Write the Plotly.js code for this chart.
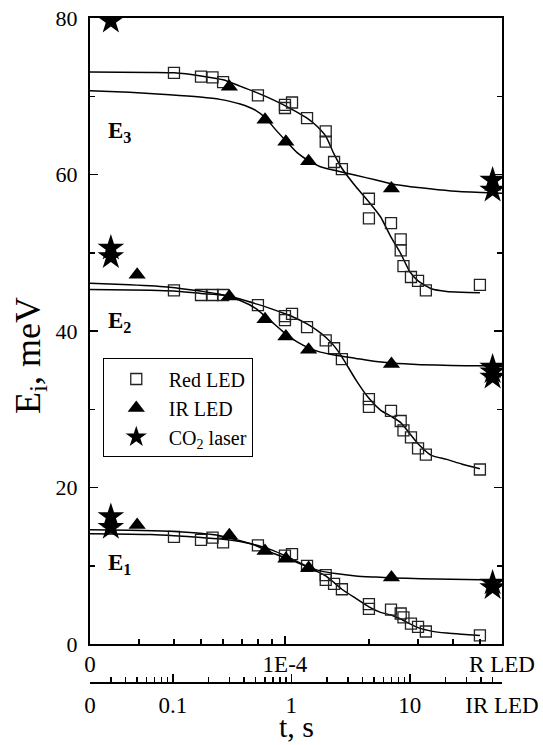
<!DOCTYPE html>
<html>
<head>
<meta charset="utf-8">
<script src="https://cdn.plot.ly/plotly-3.0.1.min.js"></script>
<style>html,body{margin:0;padding:0;background:#fff;}#chart{width:543px;height:745px;}</style>
</head>
<body>
<div id="chart"></div>
<script>
// ---- Red LED (top scale, R LED time) ----
const redSqT3 = [4e-5,5e-5,5.5e-5,6e-5,8e-5,1e-4,1e-4,1.06e-4,1.2e-4,1.4e-4,1.4e-4,1.5e-4,1.6e-4,2e-4,2e-4,2.4e-4,2.6e-4,2.6e-4,2.66e-4,2.83e-4,3e-4,3.2e-4,5e-4];
const redSqE3 = [73.0,72.5,72.4,71.8,70.1,68.9,68.5,69.2,67.2,65.5,64.2,61.6,60.7,56.9,54.4,53.8,51.7,50.3,48.3,46.9,46.4,45.2,45.9];
const redSqT2 = [4e-5,5e-5,5.5e-5,6e-5,8e-5,1e-4,1e-4,1.06e-4,1.2e-4,1.4e-4,1.5e-4,1.6e-4,2e-4,2e-4,2.4e-4,2.6e-4,2.66e-4,2.83e-4,3e-4,3.2e-4,5e-4];
const redSqE2 = [45.2,44.6,44.6,44.6,43.3,41.9,41.4,42.2,40.5,38.8,37.8,36.4,31.3,30.3,29.8,28.5,27.3,26.4,25.0,24.2,22.3];
const redSqT1 = [4e-5,5e-5,5.5e-5,6e-5,8e-5,1e-4,1.06e-4,1.2e-4,1.4e-4,1.4e-4,1.5e-4,1.6e-4,2e-4,2e-4,2.4e-4,2.6e-4,2.66e-4,2.83e-4,3e-4,3.2e-4,5e-4];
const redSqE1 = [13.7,13.3,13.6,13.0,12.6,11.3,11.5,10.0,8.8,8.2,7.7,7.0,5.1,4.5,4.4,3.9,3.4,2.6,2.2,1.6,1.1];

// Red LED fit curves
const redFitT  = [2e-5,3.3e-5,4e-5,5e-5,6e-5,6.9e-5,8e-5,9e-5,1e-4,1.1e-4,1.2e-4,1.3e-4,1.4e-4,1.5e-4,1.6e-4,1.8e-4,2e-4,2.2e-4,2.4e-4,2.6e-4,2.8e-4,3e-4,3.35e-4,3.8e-4,4.3e-4,5e-4];
const redFitE3 = [73.1,73.05,73.0,72.6,72.1,71.3,70.4,69.6,68.8,68.0,67.2,66.2,64.9,62.6,60.8,58.4,56.5,54.6,52.0,49.9,47.6,46.4,45.4,45.05,44.95,44.9];
const redFitE2 = [45.3,45.2,45.1,44.8,44.6,44.1,43.4,42.8,42.2,41.6,40.9,40.1,39.2,38.1,36.7,33.7,31.4,29.9,29.1,28.3,26.9,25.6,24.1,23.6,23.0,22.4];
const redFitE1 = [14.1,14.0,13.85,13.6,13.4,13.1,12.6,12.0,11.3,10.6,9.9,9.3,8.7,7.85,7.0,5.8,4.75,4.05,3.7,3.2,2.6,2.1,1.65,1.4,1.25,1.1];

// ---- IR LED (bottom scale, t in s) ----
const irSymT3 = [0.3,0.6,0.9,1.4,7];
const irSymE3 = [71.2,67.0,64.2,61.7,58.2];
const irSymT  = [0.05,0.3,0.6,0.9,1.4,7];
const irSymE2 = [47.2,44.4,41.5,39.3,37.6,35.8];
const irSymE1 = [15.2,13.9,11.9,10.9,9.7,8.5];

const irFitT  = [0.02,0.043,0.094,0.17,0.25,0.37,0.5,0.61,0.73,0.9,1.12,1.42,1.76,2.36,3.5,5.2,7.05,12.4,22.3,40,60];
const irFitE3 = [70.7,70.5,70.2,69.9,69.6,69.0,68.2,67.2,65.8,64.3,62.8,61.7,61.0,60.5,59.9,59.3,58.8,58.3,57.9,57.7,57.6];
const irFitE2 = [46.1,45.9,45.6,45.1,44.7,43.9,42.9,41.8,40.8,39.6,38.6,37.8,37.3,36.9,36.5,36.1,35.9,35.7,35.6,35.55,35.5];
const irFitE1 = [14.6,14.55,14.4,14.15,13.85,13.2,12.6,12.0,11.5,11.0,10.4,9.8,9.35,9.0,8.7,8.55,8.45,8.35,8.27,8.22,8.2];

// ---- CO2 laser ----
const starT = [0.03,0.03,0.03,0.03,0.03,50,50,50,50,50,50,50];
const starE = [79.6,50.6,49.5,16.3,14.9,59.3,58.0,35.4,34.8,34.1,7.8,7.2];

// ---- axes tick labels ----
const topTickVals = [2e-5,1e-4,6e-4];
const topTickText = ['0','1E-4','R LED'];
const topMinor = [3e-5,4e-5,5e-5,6e-5,7e-5,8e-5,9e-5,2e-4,3e-4,4e-4,5e-4];
const botTickVals = [0.02,0.1,1,10,60];
const botTickText = ['0','0.1','1','10','IR LED'];
const botMinor = [0.03,0.04,0.05,0.06,0.07,0.08,0.09,0.2,0.3,0.4,0.5,0.6,0.7,0.8,0.9,2,3,4,5,6,7,8,9,20,30,40,50];
const yTickVals = [0,20,40,60,80];
const yMinor = [10,30,50,70];

const FONT = 'Liberation Serif';
const lineStyle = {color:'#000', width:1.5, shape:'spline', smoothing:0.6};
const sq = {symbol:'square-open', size:11, color:'#222', line:{width:1.3, color:'#222'}};
const tri = {symbol:'triangle-up', size:15, color:'#000'};
const star = {symbol:'star', size:20, color:'#000'};

const traces = [
  {x:redFitT, y:redFitE3, xaxis:'x', yaxis:'y', mode:'lines', line:lineStyle, showlegend:false, hoverinfo:'skip'},
  {x:redFitT, y:redFitE2, xaxis:'x', yaxis:'y', mode:'lines', line:lineStyle, showlegend:false, hoverinfo:'skip'},
  {x:redFitT, y:redFitE1, xaxis:'x', yaxis:'y', mode:'lines', line:lineStyle, showlegend:false, hoverinfo:'skip'},
  {x:irFitT, y:irFitE3, xaxis:'x2', yaxis:'y', mode:'lines', line:lineStyle, showlegend:false, hoverinfo:'skip'},
  {x:irFitT, y:irFitE2, xaxis:'x2', yaxis:'y', mode:'lines', line:lineStyle, showlegend:false, hoverinfo:'skip'},
  {x:irFitT, y:irFitE1, xaxis:'x2', yaxis:'y', mode:'lines', line:lineStyle, showlegend:false, hoverinfo:'skip'},
  {x:redSqT3.concat(redSqT2, redSqT1), y:redSqE3.concat(redSqE2, redSqE1), xaxis:'x', yaxis:'y', mode:'markers', marker:sq, name:'Red LED'},
  {x:irSymT3.concat(irSymT, irSymT), y:irSymE3.concat(irSymE2, irSymE1), xaxis:'x2', yaxis:'y', mode:'markers', marker:tri, name:'IR LED'},
  {x:starT, y:starE, xaxis:'x2', yaxis:'y', mode:'markers', marker:star, name:'CO<sub>2</sub> laser'}
];

const axisCommon = {showgrid:false, zeroline:false, showline:true, linecolor:'#000', linewidth:2,
  ticks:'inside', tickcolor:'#000', tickwidth:1.5, tickfont:{family:FONT, size:23, color:'#000'}};

const layout = {
  width:543, height:745,
  margin:{l:90, r:41, t:18, b:62},
  paper_bgcolor:'#fff', plot_bgcolor:'#fff',
  font:{family:FONT, color:'#000'},
  showlegend:true,
  yaxis: Object.assign({}, axisCommon, {
    domain:[0.0586,1], range:[0,80], tickmode:'array', tickvals:yTickVals, ticklen:8,
    mirror:'ticks', ticklabelstandoff:6, tickfont:{family:FONT, size:22, color:'#000'},
    minor:{tickmode:'array', tickvals:yMinor, ticklen:5, ticks:'inside', tickcolor:'#000', tickwidth:1.5, showgrid:false}
  }),
  xaxis: Object.assign({}, axisCommon, {
    type:'log', anchor:'y', range:[Math.log10(2e-5), Math.log10(6e-4)],
    tickmode:'array', tickvals:topTickVals, ticktext:topTickText, ticklen:8, mirror:true, ticklabelstandoff:-2,
    minor:{tickmode:'array', tickvals:topMinor, ticklen:5, ticks:'inside', tickcolor:'#000', tickwidth:1.5, showgrid:false}
  }),
  xaxis2: Object.assign({}, axisCommon, {
    type:'log', overlaying:'x', anchor:'free', position:0, side:'bottom',
    range:[Math.log10(0.02), Math.log10(60)],
    tickmode:'array', tickvals:botTickVals, ticktext:botTickText, ticklen:8, ticklabelstandoff:1,
    minor:{tickmode:'array', tickvals:botMinor, ticklen:5, ticks:'inside', tickcolor:'#000', tickwidth:1.5, showgrid:false}
  }),
  legend:{x:0.031, y:0.488, xanchor:'left', yanchor:'top', bgcolor:'#fff', bordercolor:'#000', borderwidth:1,
    font:{family:FONT, size:20, color:'#000'}, itemwidth:55, tracegroupgap:0},
  annotations:[
    {xref:'paper', yref:'paper', x:-0.146, y:0.493, text:'E<sub>i</sub>, meV', textangle:-90, showarrow:false,
      xanchor:'center', yanchor:'middle', font:{family:FONT, size:36, color:'#000'}},
    {xref:'paper', yref:'paper', x:0.5, y:-0.0932, text:'t, s', showarrow:false,
      xanchor:'center', yanchor:'bottom', font:{family:FONT, size:30, color:'#000'}},
    {xref:'paper', yref:'y', x:0.038, y:65.4, text:'<b>E<sub>3</sub></b>', showarrow:false,
      xanchor:'left', yanchor:'middle', font:{family:FONT, size:23, color:'#000'}},
    {xref:'paper', yref:'y', x:0.038, y:41.2, text:'<b>E<sub>2</sub></b>', showarrow:false,
      xanchor:'left', yanchor:'middle', font:{family:FONT, size:23, color:'#000'}},
    {xref:'paper', yref:'y', x:0.038, y:10.2, text:'<b>E<sub>1</sub></b>', showarrow:false,
      xanchor:'left', yanchor:'middle', font:{family:FONT, size:23, color:'#000'}}
  ]
};

Plotly.newPlot('chart', traces, layout, {staticPlot:true, displayModeBar:false});
</script>
</body>
</html>
